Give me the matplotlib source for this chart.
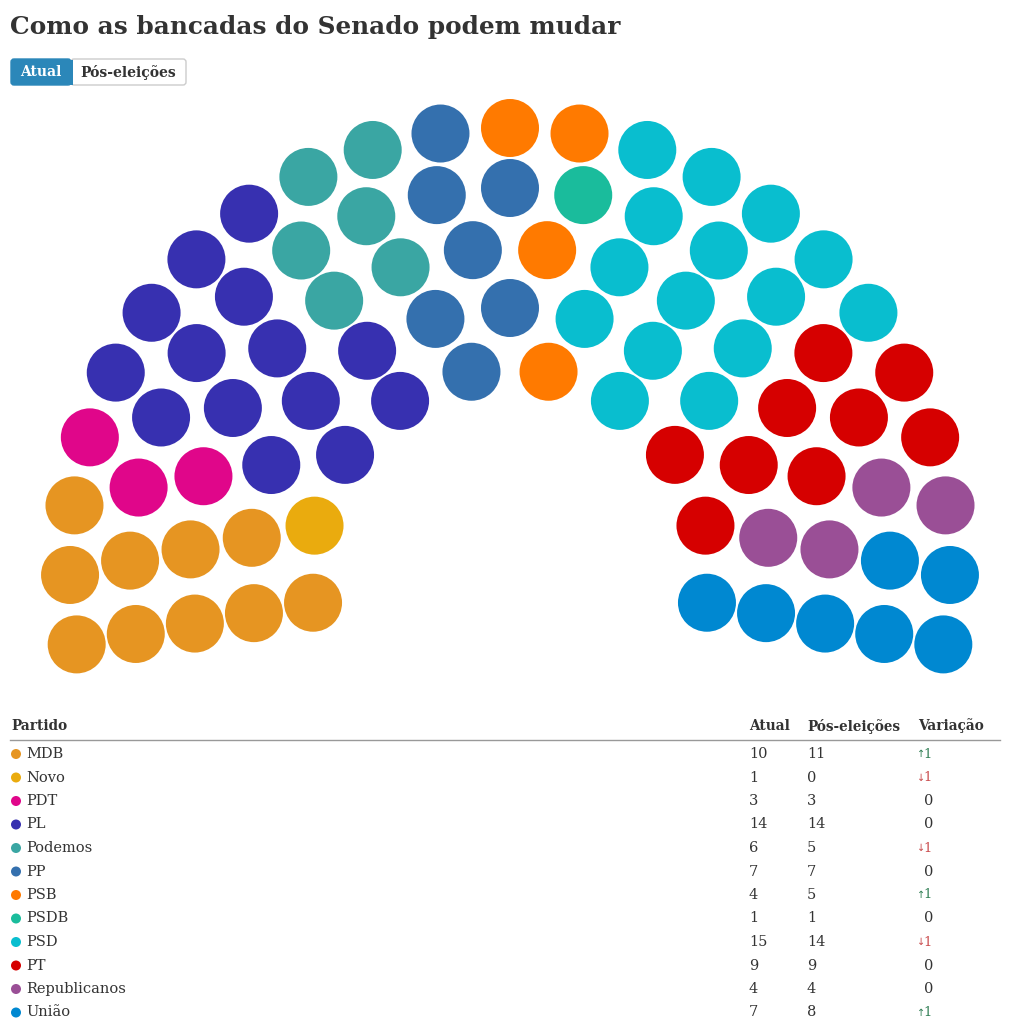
import numpy as np
import matplotlib
matplotlib.use("Agg")
import matplotlib.pyplot as plt
from matplotlib.patches import Circle, FancyBboxPatch, Rectangle

# ---------------- data ----------------
parties = ["MDB", "Novo", "PDT", "PL", "Podemos", "PP", "PSB", "PSDB", "PSD", "PT",
           "Republicanos", "União"]
atual = [10, 1, 3, 14, 6, 7, 4, 1, 15, 9, 4, 7]
pos_eleicoes = [11, 0, 3, 14, 5, 7, 5, 1, 14, 9, 4, 8]
colors = ["#E69522", "#EAAB0E", "#E0068A", "#3730B0", "#3AA6A3", "#3470AE",
          "#FF7A00", "#1ABC9C", "#09BECF", "#D60000", "#9A4F96", "#0088D1"]
row_seats = [10, 13, 16, 19, 23]          # seats per row, inner -> outer
title = "Como as bancadas do Senado podem mudar"
buttons = ["Atual", "Pós-eleições"]
headers = ["Partido", "Atual", "Pós-eleições", "Variação"]

# ---------------- figure ----------------
W, H = 1020, 1033
fig = plt.figure(figsize=(W / 100, H / 100), dpi=100)
ax = fig.add_axes([0, 0, 1, 1])
ax.set_xlim(0, W)
ax.set_ylim(H, 0)
ax.axis("off")

TXT = "#333333"
SERIF = "DejaVu Serif"

# title
t = ax.text(10, 27, title, fontsize=21, fontweight="bold", family=SERIF,
            color=TXT, va="center", ha="left")
fig.canvas.draw()
bb = t.get_window_extent()
t.set_fontsize(21 * 610 / bb.width)

# buttons
ax.add_patch(FancyBboxPatch((11, 59), 60, 26, boxstyle="round,pad=0,rounding_size=3",
                            fc="#2B87B9", ec="#2B87B9", lw=1))
ax.add_patch(FancyBboxPatch((71, 59), 115, 26, boxstyle="round,pad=0,rounding_size=3",
                            fc="white", ec="#CCCCCC", lw=1))
ax.add_patch(Rectangle((69, 59.5), 4, 25, fc="#2B87B9", ec="none"))
ax.text(41, 72, buttons[0], fontsize=10, fontweight="bold", family=SERIF,
        color="white", ha="center", va="center")
ax.text(128.5, 72, buttons[1], fontsize=10, fontweight="bold", family=SERIF,
        color=TXT, ha="center", va="center")

# ---------------- parliament ----------------
cx, cy = 510, 568
r0, dr = 200, 60
seat_r = 29
a_start, a_end = 190.0, -10.0
seats = []
for i, n in enumerate(row_seats):
    R = r0 + i * dr
    for k in range(n):
        ang = a_start + (a_end - a_start) * k / (n - 1)
        seats.append((round(-ang, 6), R, ang))
seats.sort(key=lambda s: (s[0], s[1]))

owner = []
for p, c in zip(parties, atual):
    owner += [p] * c
cmap = dict(zip(parties, colors))
for (_, R, ang), p in zip(seats, owner):
    a = np.deg2rad(ang)
    x = cx + R * np.cos(a)
    y = cy - R * np.sin(a)
    ax.add_patch(Circle((x, y), seat_r, fc=cmap[p], ec="none"))

# ---------------- table ----------------
hy = 726
col_x = [11, 749, 807, 918]
for h, x in zip(headers, col_x):
    ax.text(x, hy, h, fontsize=9.8, fontweight="bold", family=SERIF, color=TXT,
            ha="left", va="center")
ax.plot([10, 1000], [740, 740], color="#999999", lw=1)

y0, dy = 754, 23.5
for i, (p, a, b, c) in enumerate(zip(parties, atual, pos_eleicoes, colors)):
    y = y0 + i * dy
    ax.add_patch(Circle((16, y), 5, fc=c, ec="none"))
    ax.text(26, y, p, fontsize=10.5, family=SERIF, color=TXT, ha="left", va="center")
    ax.text(749, y, str(a), fontsize=10.5, family=SERIF, color=TXT, ha="left", va="center")
    ax.text(807, y, str(b), fontsize=10.5, family=SERIF, color=TXT, ha="left", va="center")
    d = b - a
    if d == 0:
        ax.text(933, y, "0", fontsize=10.5, family=SERIF, color=TXT, ha="right", va="center")
    else:
        col = "#2E7D52" if d > 0 else "#C9494B"
        arrow = "↑" if d > 0 else "↓"
        ax.text(932, y, str(abs(d)), fontsize=9.5, family=SERIF, color=col,
                ha="right", va="center")
        ax.text(921, y, arrow, fontsize=7, family="DejaVu Sans", color=col,
                ha="center", va="center")

fig.savefig("out.png", dpi=100, facecolor="white")
